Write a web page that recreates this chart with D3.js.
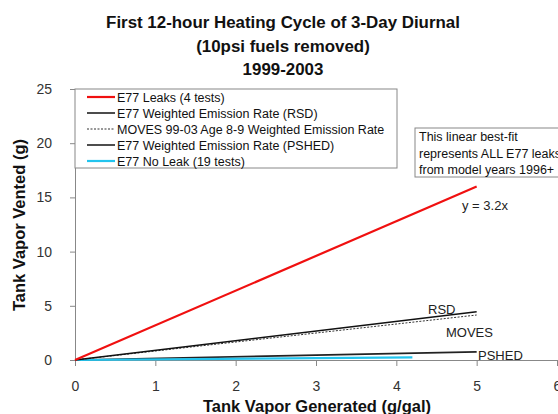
<!DOCTYPE html>
<html>
<head>
<meta charset="utf-8">
<script src="https://cdn.jsdelivr.net/npm/d3@7"></script>
<style>
  body { margin: 0; background: #fff; }
  svg { font-family: "Liberation Sans", Arial, sans-serif; }
</style>
</head>
<body>
<div id="chart"></div>
<script>
// data
const titleLines = ["First 12-hour Heating Cycle of 3-Day Diurnal", "(10psi fuels removed)", "1999-2003"];
const xTicks = [0, 1, 2, 3, 4, 5, 6];
const yTicks = [0, 5, 10, 15, 20, 25];

const leakPts = [[0, 0], [5, 16]];
const rsdPts = [[0, 0], [5, 4.45]];
const movesPts = [[0, 0], [5, 4.15]];
const pshedPts = [[0, 0], [5, 0.75]];
const noLeakPts = [[0, 0], [4.2, 0.25]];

const legendNames = [
  "E77 Leaks (4 tests)",
  "E77 Weighted Emission Rate (RSD)",
  "MOVES 99-03 Age 8-9 Weighted Emission Rate",
  "E77 Weighted Emission Rate (PSHED)",
  "E77 No Leak (19 tests)"
];
const noteLines = ["This linear best-fit", "represents ALL E77 leaks", "from model years 1996+"];

////////////////////////////  Init  ///////////////////////////////
const width = 558, height = 414;
const svg = d3.select("#chart").append("svg").attr("width", width).attr("height", height);

const x = d3.scaleLinear().domain([0, 6]).range([75, 557]);
const y = d3.scaleLinear().domain([0, 25]).range([360, 89]);

// title
svg.selectAll(".title")
  .data(titleLines)
  .enter()
  .append("text")
  .attr("x", 283)
  .attr("y", (d, i) => 28 + i * 23.5)
  .attr("text-anchor", "middle")
  .attr("font-size", 16.9)
  .attr("font-weight", "bold")
  .attr("fill", "#111")
  .text((d) => d);

// axes
const xAxis = svg.append("g")
  .attr("transform", `translate(0,${y(0)})`)
  .call(d3.axisBottom(x).tickValues(xTicks).tickFormat(d3.format("d")).tickSize(6).tickPadding(15));
const yAxis = svg.append("g")
  .attr("transform", `translate(${x(0)},0)`)
  .call(d3.axisLeft(y).tickValues(yTicks).tickFormat(d3.format("d")).tickSize(5).tickPadding(18));

[xAxis, yAxis].forEach((a) => {
  a.select(".domain").attr("stroke", "#888");
  a.selectAll(".tick line").attr("stroke", "#888");
  a.selectAll(".tick text")
    .attr("font-size", 14)
    .attr("fill", "#333")
    .attr("font-family", "Liberation Sans, Arial, sans-serif");
});

// axis titles
svg.append("text")
  .attr("x", 317)
  .attr("y", 412)
  .attr("text-anchor", "middle")
  .attr("font-size", 16.5)
  .attr("font-weight", "bold")
  .attr("fill", "#111")
  .text("Tank Vapor Generated (g/gal)");

svg.append("text")
  .attr("transform", "translate(25,225) rotate(-90)")
  .attr("text-anchor", "middle")
  .attr("font-size", 16.5)
  .attr("font-weight", "bold")
  .attr("fill", "#111")
  .text("Tank Vapor Vented (g)");

// lines
const line = d3.line().x((d) => x(d[0])).y((d) => y(d[1]));

svg.append("path").datum(pshedPts).attr("d", line)
  .attr("fill", "none").attr("stroke", "#222").attr("stroke-width", 1.6);
svg.append("path").datum(noLeakPts).attr("d", line)
  .attr("fill", "none").attr("stroke", "#22c4ee").attr("stroke-width", 2.2);
svg.append("path").datum(movesPts).attr("d", line)
  .attr("fill", "none").attr("stroke", "#333").attr("stroke-width", 1).attr("stroke-dasharray", "2,1.5");
svg.append("path").datum(rsdPts).attr("d", line)
  .attr("fill", "none").attr("stroke", "#111").attr("stroke-width", 1.5);
svg.append("path").datum(leakPts).attr("d", line)
  .attr("fill", "none").attr("stroke", "#f01010").attr("stroke-width", 2.2);

// line labels
const lineLabels = [
  { t: "RSD", x: 428, y: 314 },
  { t: "MOVES", x: 446, y: 337 },
  { t: "PSHED", x: 478, y: 360 },
  { t: "y = 3.2x", x: 462, y: 210 }
];
svg.selectAll(".lbl")
  .data(lineLabels)
  .enter()
  .append("text")
  .attr("x", (d) => d.x)
  .attr("y", (d) => d.y)
  .attr("font-size", 13)
  .attr("fill", "#222")
  .text((d) => d.t);

// legend
const legend = svg.append("g").attr("transform", "translate(75,89)");
legend.append("rect")
  .attr("width", 322).attr("height", 79)
  .attr("fill", "#fff").attr("stroke", "#888");
const legendStyle = [
  { c: "#f01010", w: 2.2, dash: null },
  { c: "#111", w: 1.5, dash: null },
  { c: "#333", w: 1, dash: "2,1.5" },
  { c: "#222", w: 1.6, dash: null },
  { c: "#22c4ee", w: 2.2, dash: null }
];
const rows = legend.selectAll(".row")
  .data(legendNames)
  .enter()
  .append("g")
  .attr("transform", (d, i) => `translate(0,${8 + i * 16})`);
rows.append("line")
  .attr("x1", 12).attr("x2", 40)
  .attr("stroke", (d, i) => legendStyle[i].c)
  .attr("stroke-width", (d, i) => legendStyle[i].w)
  .attr("stroke-dasharray", (d, i) => legendStyle[i].dash);
rows.append("text")
  .attr("x", 42)
  .attr("y", 4.5)
  .attr("font-size", 12.5)
  .attr("fill", "#111")
  .text((d) => d);

// note box (runs past the right edge, as in the original)
const note = svg.append("g").attr("transform", "translate(415,128)");
note.append("rect")
  .attr("width", 160).attr("height", 49)
  .attr("fill", "#fff").attr("stroke", "#888");
note.selectAll("text")
  .data(noteLines)
  .enter()
  .append("text")
  .attr("x", 4)
  .attr("y", (d, i) => 13 + i * 16.5)
  .attr("font-size", 12.5)
  .attr("fill", "#111")
  .text((d) => d);
</script>
</body>
</html>
